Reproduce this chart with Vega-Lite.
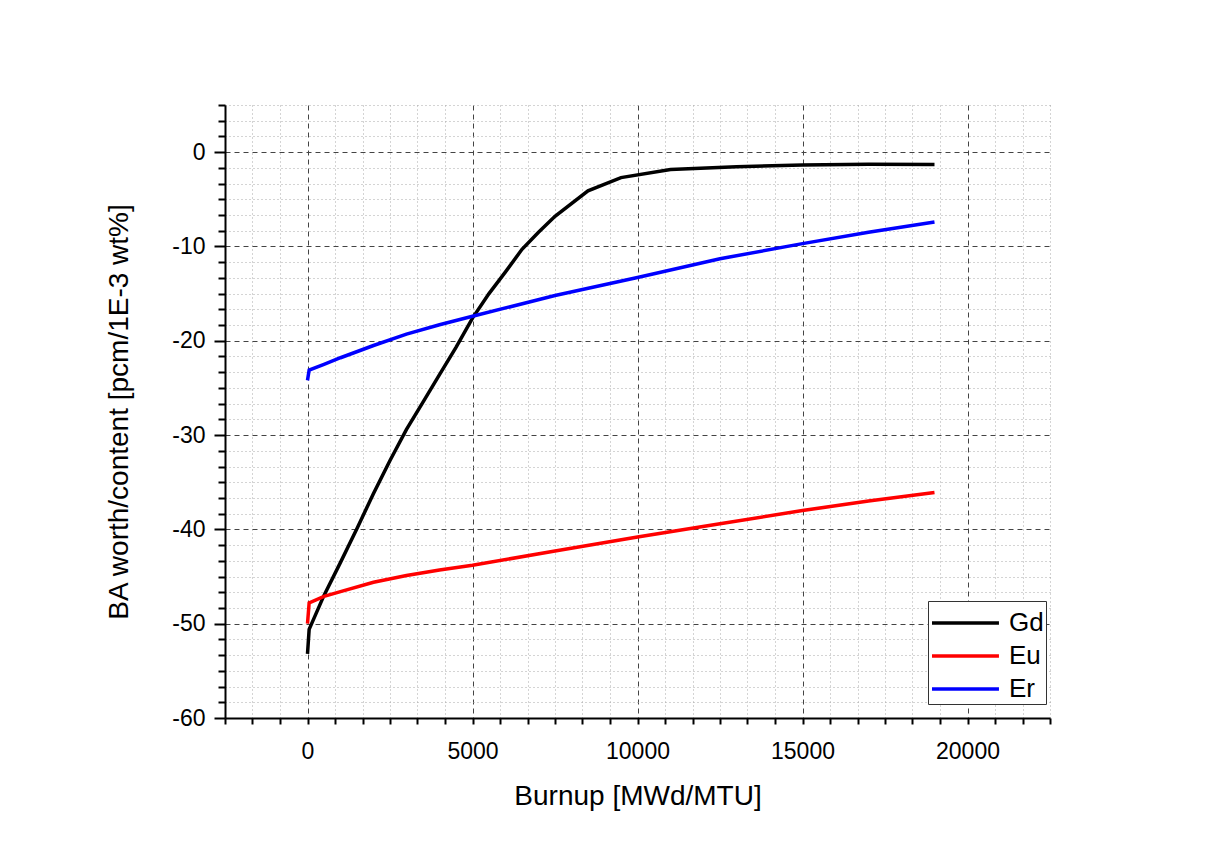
{
  "$schema": "https://vega.github.io/schema/vega-lite/v6.json",
  "width": 825,
  "height": 613,
  "autosize": {"type": "none"},
  "padding": {"left": 225, "top": 105, "right": 168, "bottom": 141},
  "background": "white",
  "config": {
    "view": {"stroke": null},
    "font": "Liberation Sans",
    "axis": {
      "domainColor": "black",
      "domainWidth": 2,
      "tickColor": "black",
      "tickWidth": 2,
      "labelColor": "black",
      "titleColor": "black",
      "titleFontWeight": "normal",
      "labelFontSize": 23,
      "titleFontSize": 28,
      "labelFont": "Liberation Sans",
      "titleFont": "Liberation Sans"
    }
  },
  "data": {
    "values": [
      {"material": "Gd", "burnup": 0, "worth": -53.2},
      {"material": "Gd", "burnup": 50, "worth": -50.6},
      {"material": "Gd", "burnup": 500, "worth": -47.0},
      {"material": "Gd", "burnup": 1000, "worth": -43.5},
      {"material": "Gd", "burnup": 1500, "worth": -39.9},
      {"material": "Gd", "burnup": 2000, "worth": -36.2},
      {"material": "Gd", "burnup": 2500, "worth": -32.7},
      {"material": "Gd", "burnup": 3000, "worth": -29.4},
      {"material": "Gd", "burnup": 3500, "worth": -26.5},
      {"material": "Gd", "burnup": 4000, "worth": -23.6},
      {"material": "Gd", "burnup": 4500, "worth": -20.7},
      {"material": "Gd", "burnup": 5000, "worth": -17.6},
      {"material": "Gd", "burnup": 5500, "worth": -15.0},
      {"material": "Gd", "burnup": 6000, "worth": -12.7},
      {"material": "Gd", "burnup": 6500, "worth": -10.3},
      {"material": "Gd", "burnup": 7000, "worth": -8.5},
      {"material": "Gd", "burnup": 7500, "worth": -6.8},
      {"material": "Gd", "burnup": 8500, "worth": -4.1},
      {"material": "Gd", "burnup": 9500, "worth": -2.7},
      {"material": "Gd", "burnup": 11000, "worth": -1.85},
      {"material": "Gd", "burnup": 13000, "worth": -1.55},
      {"material": "Gd", "burnup": 15000, "worth": -1.35},
      {"material": "Gd", "burnup": 17000, "worth": -1.28},
      {"material": "Gd", "burnup": 19000, "worth": -1.3},
      {"material": "Eu", "burnup": 0, "worth": -50.0},
      {"material": "Eu", "burnup": 50, "worth": -47.8},
      {"material": "Eu", "burnup": 500, "worth": -47.1},
      {"material": "Eu", "burnup": 1000, "worth": -46.6},
      {"material": "Eu", "burnup": 2000, "worth": -45.6},
      {"material": "Eu", "burnup": 3000, "worth": -44.9},
      {"material": "Eu", "burnup": 4000, "worth": -44.3},
      {"material": "Eu", "burnup": 5000, "worth": -43.8},
      {"material": "Eu", "burnup": 7500, "worth": -42.3},
      {"material": "Eu", "burnup": 10000, "worth": -40.8},
      {"material": "Eu", "burnup": 12500, "worth": -39.4},
      {"material": "Eu", "burnup": 15000, "worth": -38.0},
      {"material": "Eu", "burnup": 17000, "worth": -37.0},
      {"material": "Eu", "burnup": 19000, "worth": -36.1},
      {"material": "Er", "burnup": 0, "worth": -24.2},
      {"material": "Er", "burnup": 50, "worth": -23.1},
      {"material": "Er", "burnup": 500, "worth": -22.5},
      {"material": "Er", "burnup": 1000, "worth": -21.8},
      {"material": "Er", "burnup": 2000, "worth": -20.5},
      {"material": "Er", "burnup": 3000, "worth": -19.3},
      {"material": "Er", "burnup": 4000, "worth": -18.3},
      {"material": "Er", "burnup": 5000, "worth": -17.4},
      {"material": "Er", "burnup": 7500, "worth": -15.2},
      {"material": "Er", "burnup": 10000, "worth": -13.3},
      {"material": "Er", "burnup": 12500, "worth": -11.3},
      {"material": "Er", "burnup": 15000, "worth": -9.7},
      {"material": "Er", "burnup": 17000, "worth": -8.5},
      {"material": "Er", "burnup": 19000, "worth": -7.4}
    ]
  },
  "mark": {"type": "line", "strokeWidth": 3.5, "clip": true},
  "encoding": {
    "x": {
      "field": "burnup",
      "type": "quantitative",
      "scale": {"domain": [-2500, 22500], "nice": false, "zero": false},
      "axis": {
        "title": "Burnup [MWd/MTU]",
        "titlePadding": 19,
        "values": [-2500, -1666.6667, -833.3333, 0, 833.3333, 1666.6667, 2500, 3333.3333, 4166.6667, 5000, 5833.3333, 6666.6667, 7500, 8333.3333, 9166.6667, 10000, 10833.3333, 11666.6667, 12500, 13333.3333, 14166.6667, 15000, 15833.3333, 16666.6667, 17500, 18333.3333, 19166.6667, 20000, 20833.3333, 21666.6667, 22500],
        "labelExpr": "abs(datum.value / 5000 - round(datum.value / 5000)) < 0.000001 && datum.value >= 0 && datum.value <= 20000 ? '' + round(datum.value) : ''",
        "labelPadding": 16,
        "labelFlush": false,
        "labelOverlap": false,
        "tickSize": 6,
        "grid": true,
        "gridColor": {"condition": {"test": "abs(datum.value / 5000 - round(datum.value / 5000)) < 0.000001", "value": "#444444"}, "value": "#a8a8a8"},
        "gridDash": {"condition": {"test": "abs(datum.value / 5000 - round(datum.value / 5000)) < 0.000001", "value": [5, 4]}, "value": [1, 3]},
        "gridWidth": 1
      }
    },
    "y": {
      "field": "worth",
      "type": "quantitative",
      "scale": {"domain": [-60, 5], "nice": false, "zero": false},
      "axis": {
        "title": "BA worth/content [pcm/1E-3 wt%]",
        "titlePadding": 38,
        "values": [5, 3.3333, 1.6667, 0, -1.6667, -3.3333, -5, -6.6667, -8.3333, -10, -11.6667, -13.3333, -15, -16.6667, -18.3333, -20, -21.6667, -23.3333, -25, -26.6667, -28.3333, -30, -31.6667, -33.3333, -35, -36.6667, -38.3333, -40, -41.6667, -43.3333, -45, -46.6667, -48.3333, -50, -51.6667, -53.3333, -55, -56.6667, -58.3333, -60],
        "labelExpr": "abs(datum.value / 10 - round(datum.value / 10)) < 0.000001 && datum.value <= 0 ? '' + round(datum.value) : ''",
        "labelPadding": 9,
        "labelOverlap": false,
        "labelFlush": false,
        "tickSize": {"condition": {"test": "abs(datum.value / 10 - round(datum.value / 10)) < 0.000001", "value": 11}, "value": 7},
        "grid": true,
        "gridColor": {"condition": {"test": "abs(datum.value / 10 - round(datum.value / 10)) < 0.000001", "value": "#444444"}, "value": "#a8a8a8"},
        "gridDash": {"condition": {"test": "abs(datum.value / 10 - round(datum.value / 10)) < 0.000001", "value": [5, 4]}, "value": [1, 3]},
        "gridWidth": 1
      }
    },
    "color": {
      "field": "material",
      "type": "nominal",
      "scale": {"domain": ["Gd", "Eu", "Er"], "range": ["#000000", "#ff0000", "#0000ff"]},
      "legend": {
        "title": null,
        "orient": "none",
        "legendX": 703,
        "legendY": 496,
        "padding": 2,
        "rowPadding": -3,
        "strokeColor": "#333333",
        "fillColor": "white",
        "symbolType": "M-1,0H2.72",
        "symbolSize": 1296,
        "symbolStrokeWidth": 3.5,
        "labelOffset": 39,
        "labelFontSize": 26,
        "labelFont": "Liberation Sans",
        "labelColor": "black"
      }
    },
    "order": {"field": "burnup", "type": "quantitative"}
  }
}
